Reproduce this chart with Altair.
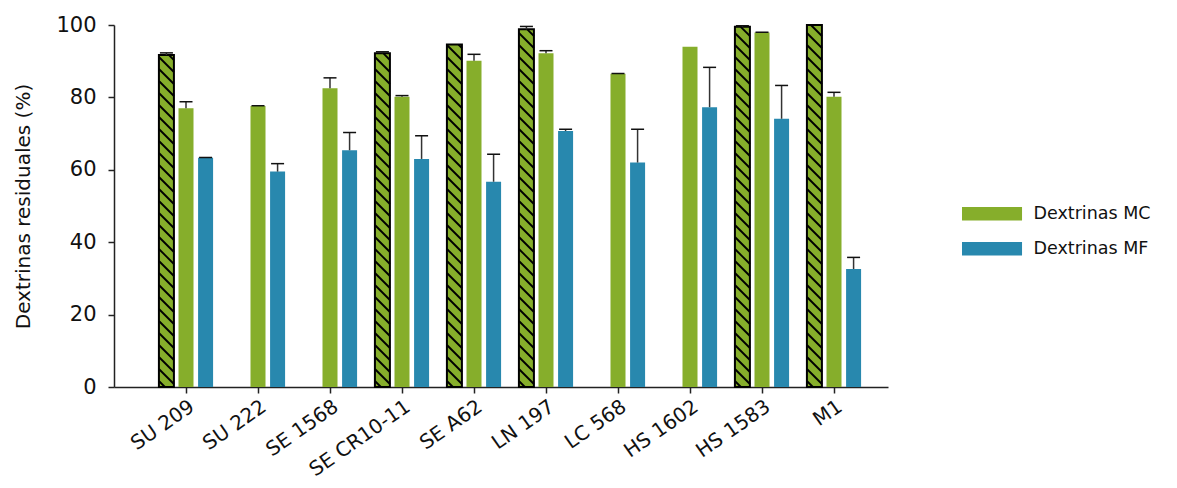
import altair as alt
import pandas as pd

categories = ["SU 209", "SU 222", "SE 1568", "SE CR10-11", "SE A62",
              "LN 197", "LC 568", "HS 1602", "HS 1583", "M1"]
hatched = [91.7, None, None, 92.2, 94.6, 98.8, None, None, 99.5, 100.0]
hatched_err = [0.6, None, None, 0.4, 0.0, 0.8, None, None, 0.3, 0.0]
mc = [77.0, 77.6, 82.5, 80.2, 90.1, 92.2, 86.5, 94.0, 97.9, 80.2]
mc_err = [1.8, 0.1, 2.9, 0.3, 1.8, 0.7, 0.1, 0.0, 0.1, 1.2]
mf = [63.3, 59.5, 65.4, 63.0, 56.7, 70.7, 62.0, 77.3, 74.1, 32.6]
mf_err = [0.1, 2.2, 4.9, 6.4, 7.6, 0.5, 9.2, 11.0, 9.2, 3.2]

GREEN = "#86ae2b"
BLUE = "#2888ae"
FONT = "DejaVu Sans"

# layout constants (pixels)
W, H = 774, 362
STEP = 72.0            # px per category
YPX = H / 100.0        # px per percent
BAR_PX = 15.0
HW = BAR_PX / 2 / STEP
OFF = 0.272
CAP = 6.5 / STEP

rows = []
for i, c in enumerate(categories):
    pos = i + 1
    for s, vals, errs, off in [("Hatched", hatched, hatched_err, -OFF),
                               ("Dextrinas MC", mc, mc_err, 0.0),
                               ("Dextrinas MF", mf, mf_err, OFF)]:
        v = vals[i]
        if v is None:
            continue
        e = errs[i]
        ctr = pos + off
        rows.append(dict(cat=c, series=s, center=ctr, x0=ctr - HW, x1=ctr + HW,
                         value=v, err=e, top=v + e, c0=ctr - CAP, c1=ctr + CAP, base=0.0))
df = pd.DataFrame(rows)

# hatch segments for the hatched bars
SP = 12.0
hrows = []
for _, r in df[df.series == "Hatched"].iterrows():
    top_px = r.value * YPX
    h = SP / 2
    while h - BAR_PX < top_px:
        t0 = max(0.0, h - top_px)
        t1 = min(BAR_PX, h)
        if t1 > t0:
            hrows.append(dict(hx0=r.x0 + t0 / STEP, hx1=r.x0 + t1 / STEP,
                              hy0=(h - t0) / YPX, hy1=(h - t1) / YPX))
        h += SP
hdf = pd.DataFrame(hrows)

label_expr = "[" + ",".join("'" + c + "'" for c in categories) + "][datum.value - 1]"
xscale = alt.Scale(domain=[0, 10.75], nice=False, zero=False)
yscale = alt.Scale(domain=[0, 100], nice=False)
xaxis = alt.Axis(values=list(range(1, 11)), labelExpr=label_expr, grid=False,
                 labelAngle=-35, labelAlign="right", labelBaseline="top",
                 labelPadding=3, tickSize=6, labelFontSize=20, labelOverlap=False,
                 labelBound=False, title=None)
yaxis = alt.Axis(values=[0, 20, 40, 60, 80, 100], grid=False, tickSize=6,
                 labelPadding=12, labelFontSize=21, title="Dextrinas residuales (%)",
                 titleFontSize=20, titleFontWeight="normal", titlePadding=22)


def X(f):
    return alt.X(f, type="quantitative", scale=xscale, axis=xaxis, title=None)


def Y(f):
    return alt.Y(f, type="quantitative", scale=yscale, axis=yaxis, title="Dextrinas residuales (%)")


main = df[df.series != "Hatched"]

bars = alt.Chart(main).mark_rect().encode(
    x=X("x0"), x2="x1", y=Y("value"), y2="base",
    color=alt.Color("series:N", scale=alt.Scale(domain=["Dextrinas MC", "Dextrinas MF"],
                                                 range=[GREEN, BLUE]),
                    legend=alt.Legend(title=None, orient="none", legendX=846, legendY=180,
                                      symbolType="M-1,-1H7.9V1H-1Z", symbolSize=182,
                                      symbolStrokeWidth=0, labelFontSize=17.5,
                                      labelOffset=56, rowPadding=16, labelFont=FONT)),
)

hdata = df[df.series == "Hatched"]
hfill = alt.Chart(hdata).mark_rect(color=GREEN).encode(
    x=X("x0"), x2="x1", y=Y("value"), y2="base")
hlines = alt.Chart(hdf).mark_rule(color="black", strokeWidth=1.8).encode(
    x=X("hx0"), x2="hx1", y=Y("hy0"), y2="hy1")
hborder = alt.Chart(hdata).mark_rect(fillOpacity=0, stroke="black", strokeWidth=2).encode(
    x=X("x0"), x2="x1", y=Y("value"), y2="base")

edf = df[df.err > 0]
ebar = alt.Chart(edf).mark_rule(color="#333333", strokeWidth=1.5).encode(
    x=X("center"), y=Y("value"), y2="top")
ecap = alt.Chart(edf).mark_rule(color="#111111", strokeWidth=1.5).encode(
    x=X("c0"), x2="c1", y=Y("top"))

chart = alt.layer(bars, hfill, hlines, hborder, ebar, ecap).properties(
    width=W, height=H,
    autosize="none",
    padding={"left": 106, "top": 17, "right": 281, "bottom": 93},
).configure_view(stroke=None).configure_axis(
    labelFont=FONT, titleFont=FONT, labelColor="#111", titleColor="#111",
    domainColor="#222", tickColor="#222", domainWidth=1.5, tickWidth=1.5,
).configure_legend(labelColor="#111")

chart.save("out.html", embed_options={"renderer": "svg", "actions": False})
